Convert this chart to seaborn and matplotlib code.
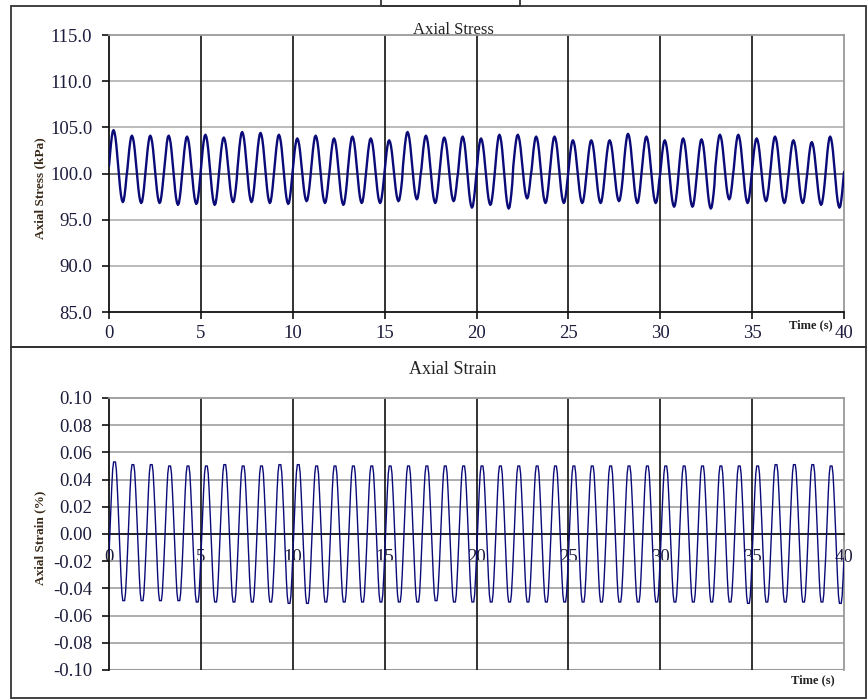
import numpy as np
import pandas as pd
import matplotlib
matplotlib.use("Agg")
import matplotlib.pyplot as plt
import seaborn as sns
from matplotlib.patches import Rectangle

# ---------------- data ----------------
# one loading cycle per second, 40 cycles
stress_peaks = [104.7, 104.1, 104.1, 104.1, 104.0, 104.2, 103.9, 104.5, 104.4, 104.2,
                103.8, 104.1, 103.8, 104.0, 103.8, 103.6, 104.5, 104.1, 103.9, 104.0,
                103.8, 104.2, 104.2, 104.0, 104.0, 103.6, 103.6, 103.6, 104.3, 104.0,
                103.6, 103.8, 103.7, 104.2, 104.2, 103.8, 104.0, 103.6, 103.4, 104.0]
stress_troughs = [96.9, 96.8, 96.8, 96.6, 96.7, 96.6, 96.9, 96.9, 96.8, 96.7,
                  97.0, 96.8, 96.6, 96.8, 96.8, 97.0, 97.2, 96.8, 97.0, 96.3,
                  96.6, 96.2, 97.3, 96.8, 96.8, 96.8, 96.8, 97.0, 96.8, 96.8,
                  96.4, 96.4, 96.2, 97.2, 96.8, 97.0, 96.8, 96.8, 96.6, 96.3]
strain_peaks = [0.053, 0.051, 0.051, 0.050, 0.050, 0.050, 0.051, 0.050, 0.050, 0.051,
                0.051, 0.050, 0.050, 0.050, 0.050, 0.050, 0.050, 0.050, 0.050, 0.050,
                0.050, 0.050, 0.050, 0.050, 0.050, 0.050, 0.050, 0.050, 0.050, 0.050,
                0.050, 0.050, 0.050, 0.050, 0.050, 0.050, 0.051, 0.051, 0.051, 0.050]
strain_troughs = [-0.049, -0.049, -0.049, -0.049, -0.050, -0.050, -0.050, -0.050, -0.050, -0.051,
                  -0.051, -0.050, -0.050, -0.050, -0.050, -0.050, -0.050, -0.049, -0.050, -0.050,
                  -0.050, -0.050, -0.050, -0.050, -0.050, -0.050, -0.050, -0.050, -0.050, -0.050,
                  -0.050, -0.050, -0.050, -0.050, -0.051, -0.050, -0.050, -0.050, -0.050, -0.051]
# normalised shape of one cycle (0 = trough, 1 = peak), 20 samples per second
stress_shape = [0.50, 0.65, 0.79, 0.90, 0.98, 1.00, 0.97, 0.90, 0.79, 0.65,
                0.50, 0.35, 0.21, 0.10, 0.03, 0.00, 0.02, 0.10, 0.21, 0.35]
strain_shape = [0.33, 0.50, 0.67, 0.82, 0.945, 1.00, 1.00, 1.00, 0.945, 0.82,
                0.67, 0.50, 0.33, 0.18, 0.055, 0.00, 0.00, 0.00, 0.055, 0.18]
x_ticks = [0, 5, 10, 15, 20, 25, 30, 35, 40]
stress_ticks = [85, 90, 95, 100, 105, 110, 115]
strain_ticks = [-0.10, -0.08, -0.06, -0.04, -0.02, 0.00, 0.02, 0.04, 0.06, 0.08, 0.10]


def build(peaks, troughs, shape):
    n = len(shape)
    t, v = [], []
    for k, (p, q) in enumerate(zip(peaks, troughs)):
        for i, s in enumerate(shape):
            t.append(k + i / n)
            v.append(q + (p - q) * s)
    t.append(len(peaks))
    v.append(troughs[-1] + (peaks[-1] - troughs[-1]) * shape[0])
    return pd.DataFrame({"t": t, "v": v})


df_stress = build(stress_peaks, stress_troughs, stress_shape)
df_strain = build(strain_peaks, strain_troughs, strain_shape)

# ---------------- figure ----------------
sns.set_theme(style="white")
plt.rcParams["font.family"] = ["Liberation Serif", "DejaVu Serif"]

W, H = 867, 700
fig = plt.figure(figsize=(W / 100, H / 100), dpi=100)
fig.patch.set_facecolor("white")


def px_axes(x0, y0, x1, y1):
    return fig.add_axes([x0 / W, 1 - y1 / H, (x1 - x0) / W, (y1 - y0) / H])


tick_color = "#1c1c3c"
line_color = "#0a0a78"

# frames
for (x0, y0, x1, y1) in [(11, 6, 866, 347), (11, 347, 866, 698), (381, -5, 520, 6)]:
    fig.add_artist(Rectangle((x0 / W, 1 - y1 / H), (x1 - x0) / W, (y1 - y0) / H,
                             transform=fig.transFigure, fill=False,
                             edgecolor="#333333", lw=1.3, zorder=0))

# ---------- top: stress ----------
ax1 = px_axes(109, 35, 844, 312)
for y in stress_ticks[1:-1]:
    ax1.axhline(y, color="#666666" if y == 100 else "#b5b5b5", lw=1.3, zorder=1)
for x in x_ticks[1:-1]:
    ax1.axvline(x, color="#111111", lw=1.2, zorder=1)
sns.lineplot(data=df_stress, x="t", y="v", ax=ax1, color=line_color, lw=1.7,
             estimator=None, zorder=3)
ax1.set_xlim(0, 40)
ax1.set_ylim(85, 115)
ax1.set_xticks(x_ticks)
ax1.set_yticks(stress_ticks)
ax1.set_yticklabels([f"{v:.1f}" for v in stress_ticks])
ax1.set_xticklabels([str(v) for v in x_ticks])
ax1.tick_params(axis="both", labelsize=13.5, colors="#111111", labelcolor=tick_color,
                direction="out", length=5, width=1.2, left=True, bottom=True)
ax1.tick_params(axis="x", pad=4)
ax1.tick_params(axis="y", pad=7)
ax1.set_xlabel("")
ax1.set_ylabel("")
for s in ["top", "right"]:
    ax1.spines[s].set_color("#9a9a9a")
    ax1.spines[s].set_linewidth(1.3)
for s in ["left", "bottom"]:
    ax1.spines[s].set_color("#111111")
    ax1.spines[s].set_linewidth(1.3)
fig.text(453 / W, 1 - 30 / H, "Axial Stress", ha="center", va="center",
         fontsize=12, color="#222222")
fig.text(40 / W, 1 - 188 / H, "Axial Stress (kPa)", ha="center", va="center",
         rotation=90, fontsize=9.5, fontweight="bold", color="#3a2a1a")
fig.text(811 / W, 1 - 325 / H, "Time (s)", ha="center", va="center",
         fontsize=9, fontweight="bold", color="#222222")

# ---------- bottom: strain ----------
ax2 = px_axes(109, 398, 844, 670)
for y in strain_ticks:
    if abs(y) < 1e-9 or abs(abs(y) - 0.10) < 1e-9:
        continue
    ax2.axhline(y, color="#a0a0a0", lw=1.2, zorder=1)
ax2.axhline(-0.10, color="#9a9a9a", lw=1.5, zorder=1)
for x in x_ticks[1:-1]:
    ax2.axvline(x, color="#111111", lw=1.2, zorder=1)
sns.lineplot(data=df_strain, x="t", y="v", ax=ax2, color=line_color, lw=1.0,
             estimator=None, zorder=3)
ax2.set_xlim(0, 40)
ax2.set_ylim(-0.10, 0.10)
ax2.set_xticks(x_ticks)
ax2.set_yticks(strain_ticks)
ax2.set_yticklabels([f"{v:.2f}" for v in strain_ticks])
ax2.set_xticklabels([str(v) for v in x_ticks])
ax2.tick_params(axis="both", labelsize=13.5, colors="#111111", labelcolor=tick_color,
                direction="out", length=5, width=1.2, left=True, bottom=True)
ax2.tick_params(axis="x", pad=6)
ax2.tick_params(axis="y", pad=7)
ax2.set_xlabel("")
ax2.set_ylabel("")
ax2.spines["bottom"].set_position(("data", 0))
ax2.spines["bottom"].set_color("#111111")
ax2.spines["bottom"].set_linewidth(1.3)
ax2.spines["left"].set_color("#111111")
ax2.spines["left"].set_linewidth(1.3)
for s in ["top", "right"]:
    ax2.spines[s].set_color("#9a9a9a")
    ax2.spines[s].set_linewidth(1.3)
fig.text(453 / W, 1 - 369 / H, "Axial Strain", ha="center", va="center",
         fontsize=13, color="#222222")
fig.text(40 / W, 1 - 538 / H, "Axial Strain (%)", ha="center", va="center",
         rotation=90, fontsize=9.5, fontweight="bold", color="#3a2a1a")
fig.text(813 / W, 1 - 680 / H, "Time (s)", ha="center", va="center",
         fontsize=9, fontweight="bold", color="#222222")

fig.savefig("out.png", dpi=100)
